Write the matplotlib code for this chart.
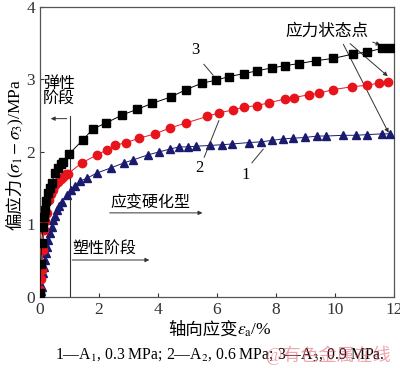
import matplotlib
matplotlib.use("Agg")
import matplotlib.pyplot as plt

plt.rcParams['font.family'] = ['Liberation Serif', 'Noto Sans CJK SC']
plt.rcParams['mathtext.fontset'] = 'stix'

# curve 3 (A3, 0.9 MPa)
x3 = [0, 0.03, 0.06, 0.1, 0.14, 0.17, 0.22, 0.27, 0.33, 0.4, 0.5, 0.6, 0.7, 0.78, 0.98,
      1.46, 1.8, 2.24, 2.78, 3.3, 3.8, 4.44, 4.95, 5.49, 5.97, 6.4, 6.9, 7.36, 7.86,
      8.3, 8.78, 9.36, 9.93, 10.6, 11.1, 11.6, 11.87]
y3 = [0.05, 0.45, 0.75, 0.97, 1.1, 1.2, 1.32, 1.43, 1.5, 1.57, 1.71, 1.78, 1.83, 1.86, 1.97,
      2.17, 2.32, 2.4, 2.51, 2.59, 2.67, 2.76, 2.86, 2.95, 2.99, 3.04, 3.08, 3.12, 3.16,
      3.19, 3.22, 3.26, 3.29, 3.35, 3.38, 3.43, 3.43]

# curve 2 (A2, 0.6 MPa)
x2 = [0, 0.03, 0.06, 0.1, 0.13, 0.18, 0.23, 0.3, 0.37, 0.45, 0.52, 0.6, 0.7, 0.78, 0.88, 0.95,
      1.42, 1.93, 2.27, 2.54, 2.92, 3.36, 3.9, 4.4, 4.95, 5.66, 6.07, 6.54, 6.92, 7.36,
      7.76, 8.3, 8.6, 9.12, 9.45, 9.93, 10.58, 11.08, 11.5, 11.8]
y2 = [0.1, 0.25, 0.37, 0.65, 0.92, 1.05, 1.16, 1.34, 1.42, 1.48, 1.54, 1.59, 1.63, 1.66, 1.69, 1.70,
      1.85, 1.96, 2.03, 2.09, 2.13, 2.19, 2.25, 2.33, 2.4, 2.49, 2.54, 2.58, 2.62, 2.64,
      2.68, 2.73, 2.75, 2.79, 2.81, 2.86, 2.9, 2.92, 2.95, 2.96]

# curve 1 (A1, 0.3 MPa)
x1 = [0, 0.03, 0.06, 0.1, 0.14, 0.17, 0.2, 0.23, 0.28, 0.34, 0.4, 0.45, 0.5, 0.57, 0.66, 0.75,
      0.9, 1.05, 1.2, 1.36, 1.6, 1.93, 2.4, 2.85, 3.15, 3.66, 4.03, 4.4, 4.71, 5.02, 5.3,
      5.75, 6.17, 6.5, 7.08, 7.5, 7.86, 8.24, 8.58, 8.98, 9.4, 9.7, 10.27, 10.7, 11.1,
      11.6, 11.86]
y1 = [0.0, 0.08, 0.14, 0.33, 0.42, 0.51, 0.6, 0.69, 0.78, 0.88, 0.97, 1.06, 1.12, 1.2, 1.26, 1.31,
      1.41, 1.47, 1.53, 1.6, 1.64, 1.71, 1.78, 1.85, 1.89, 1.96, 2.0, 2.04, 2.07, 2.07, 2.08,
      2.09, 2.1, 2.11, 2.13, 2.14, 2.16, 2.18, 2.19, 2.2, 2.22, 2.22, 2.23, 2.23, 2.24,
      2.25, 2.25]

xticks = [0, 2, 4, 6, 8, 10, 12]
yticks = [0, 1, 2, 3, 4]

fig = plt.figure(figsize=(4, 3.68), dpi=100)
ax = fig.add_axes([0.1, 0.193, 0.885, 0.788])

ax.plot(x1, y1, color='#1a1a6e', lw=0.7, marker='^', ms=5.5, zorder=3)
ax.plot(x2, y2, color='#e8141c', lw=0.7, marker='o', ms=6, zorder=4)
ax.plot(x3, y3, color='black', lw=0.7, marker='s', ms=5.2, zorder=5)

ax.set_xlim(0, 12)
ax.set_ylim(0, 4)
ax.set_xticks(xticks)
ax.set_yticks(yticks)
ax.tick_params(direction='in', length=3, labelsize=12.5, width=0.8, colors='#333333')
for s in ax.spines.values():
    s.set_color('#555555')
    s.set_linewidth(0.9)


def chain_text(pieces, x, y, vertical=False):
    # lay out text pieces one after another, centred on (x, y) in figure coords
    r = fig.canvas.get_renderer()
    texts = []
    for s, fam in pieces:
        t = fig.text(0, 0, s, fontsize=12.5, family=fam, ha='left', va='baseline',
                     rotation=90 if vertical else 0, rotation_mode='anchor')
        texts.append(t)
    W, H = fig.bbox.width, fig.bbox.height
    lens = []
    for t in texts:
        b = t.get_window_extent(r)
        lens.append(b.height / H if vertical else b.width / W)
    pos = (y if vertical else x) - sum(lens) / 2
    for t, L in zip(texts, lens):
        t.set_position((x, pos) if vertical else (pos, y))
        pos += L


chain_text([('轴向应变', ['Noto Sans CJK SC']),
            ('$\\varepsilon_{\\rm a}$/%', ['Liberation Serif'])], 0.55, 0.09)
chain_text([('偏应力', ['Noto Sans CJK SC']),
            ('($\\sigma_1-\\sigma_3$)/MPa', ['Liberation Serif'])], 0.05, 0.58, vertical=True)

gc = '#333333'
arr = dict(arrowstyle='-|>', color=gc, lw=0.7, mutation_scale=6)
ln = dict(arrowstyle='-', color=gc, lw=0.7)

# elastic / plastic stage
ax.plot([1, 1], [0, 2.5], color=gc, lw=0.8)
ax.annotate('', xy=(0.27, 2.46), xytext=(1, 2.46), arrowprops=arr)
ax.text(0.1, 3.05, '弹性\n阶段', fontsize=11.5, va='top', ha='left', linespacing=1.0)
ax.annotate('', xy=(3.8, 0.51), xytext=(1, 0.51), arrowprops=arr)
ax.text(1.08, 0.65, '塑性阶段', fontsize=11.5, va='center', ha='left')

# strain hardening
ax.annotate('', xy=(5.6, 1.16), xytext=(2.27, 1.16), arrowprops=arr)
ax.text(2.4, 1.29, '应变硬化型', fontsize=11.5, va='center', ha='left')

# curve labels
ax.text(5.25, 3.41, '3', fontsize=12, ha='center', va='center')
ax.annotate('', xy=(5.93, 3.03), xytext=(5.49, 3.24), arrowprops=ln)
ax.text(5.39, 1.78, '2', fontsize=12, ha='center', va='center')
ax.annotate('', xy=(6.10, 2.47), xytext=(5.53, 1.89), arrowprops=ln)
ax.text(6.98, 1.68, '1', fontsize=12, ha='center', va='center')
ax.annotate('', xy=(7.63, 2.07), xytext=(7.12, 1.82), arrowprops=ln)

# stress state points
ax.text(9.73, 3.66, '应力状态点', fontsize=12, ha='center', va='center')
ax.annotate('', xy=(11.63, 3.46), xytext=(11.19, 3.53), arrowprops=arr)
ax.annotate('', xy=(11.86, 3.02), xytext=(10.44, 3.52), arrowprops=arr)
ax.annotate('', xy=(11.86, 2.23), xytext=(10.24, 3.52), arrowprops=arr)

fig.text(0.55, 0.035, '1—A$_1$, 0.3 MPa; 2—A$_2$, 0.6 MPa; 3—A$_3$, 0.9 MPa.',
         fontsize=11.3, ha='center', va='center')
fig.text(0.82, 0.035, '@有色金属在线', fontsize=13, ha='center', va='center',
         color='#e05a6a', alpha=0.55)

fig.savefig('out.png', dpi=100)
